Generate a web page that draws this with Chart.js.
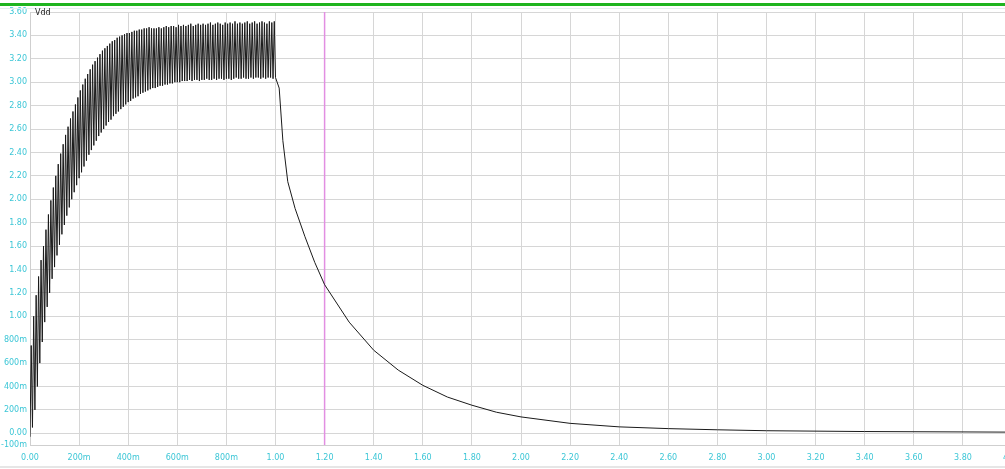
<!DOCTYPE html>
<html>
<head>
<meta charset="utf-8">
<script src="https://cdn.jsdelivr.net/npm/chart.js@4.4.1/dist/chart.umd.min.js"></script>
<style>
  html, body { margin: 0; padding: 0; background: #fff; overflow: hidden; }
  #wrap { width: 1005px; height: 469px; overflow: hidden; }
</style>
</head>
<body>
<div id="wrap"><canvas id="scope" width="1030" height="469"></canvas></div>
<script>
// trace name shown top-left
const traceName = "Vdd";

// charging phase: peak / trough voltages, one pair per switching cycle (0 .. 1.0)
const cyclePeriod = 0.01;
const peakV = [
  0.75, 1.00, 1.18, 1.34, 1.48, 1.60, 1.74, 1.87, 1.99, 2.10,
  2.20, 2.30, 2.39, 2.47, 2.55, 2.62, 2.69, 2.75, 2.81, 2.87,
  2.93, 2.98, 3.03, 3.07, 3.11, 3.15, 3.18, 3.21, 3.24, 3.27,
  3.29, 3.31, 3.33, 3.35, 3.36, 3.38, 3.39, 3.40, 3.41, 3.42,
  3.42, 3.43, 3.44, 3.44, 3.45, 3.45, 3.46, 3.46, 3.47, 3.46,
  3.46, 3.46, 3.47, 3.46, 3.47, 3.48, 3.47, 3.48, 3.48, 3.47,
  3.49, 3.48, 3.49, 3.48, 3.49, 3.50, 3.48, 3.49, 3.50, 3.49,
  3.50, 3.49, 3.50, 3.51, 3.49, 3.50, 3.51, 3.50, 3.49, 3.51,
  3.50, 3.51, 3.50, 3.52, 3.50, 3.51, 3.50, 3.51, 3.52, 3.50,
  3.51, 3.52, 3.50, 3.51, 3.52, 3.51, 3.50, 3.52, 3.51, 3.52
];
const troughV = [
  0.05, 0.20, 0.40, 0.60, 0.78, 0.95, 1.08, 1.20, 1.32, 1.42,
  1.52, 1.61, 1.70, 1.78, 1.86, 1.93, 2.00, 2.06, 2.12, 2.18,
  2.23, 2.28, 2.33, 2.38, 2.42, 2.46, 2.50, 2.54, 2.57, 2.60,
  2.63, 2.66, 2.68, 2.71, 2.73, 2.75, 2.77, 2.79, 2.81, 2.83,
  2.84, 2.86, 2.87, 2.88, 2.90, 2.91, 2.92, 2.93, 2.94, 2.95,
  2.95, 2.96, 2.97, 2.97, 2.98, 2.98, 2.99, 2.99, 3.00, 3.00,
  3.00, 3.01, 3.01, 3.01, 3.02, 3.01, 3.02, 3.02, 3.01, 3.02,
  3.02, 3.03, 3.02, 3.02, 3.03, 3.02, 3.03, 3.03, 3.02, 3.03,
  3.03, 3.02, 3.03, 3.04, 3.03, 3.03, 3.04, 3.03, 3.03, 3.04,
  3.03, 3.04, 3.04, 3.03, 3.04, 3.03, 3.04, 3.04, 3.03, 3.04
];

// discharge phase after switch-off
const decayT = [1.00, 1.015, 1.03, 1.05, 1.08, 1.12, 1.16, 1.20, 1.30, 1.40, 1.50, 1.60, 1.70, 1.80,
  1.90, 2.00, 2.20, 2.40, 2.60, 2.80, 3.00, 3.40, 4.00];
const decayV = [3.04, 2.95, 2.50, 2.15, 1.92, 1.68, 1.46, 1.27, 0.95, 0.71, 0.54, 0.41, 0.31, 0.24,
  0.18, 0.14, 0.085, 0.055, 0.040, 0.030, 0.022, 0.015, 0.010];

// axes
const xMin = 0, xMax = 4.0, xStep = 0.2;
const yMin = -0.1, yMax = 3.6, yStep = 0.2;
const cursorT = 1.2;

// build trace points
const trace = [{ x: 0, y: -0.03 }];
for (let i = 0; i < peakV.length; i++) {
  trace.push({ x: (i + 0.5) * cyclePeriod, y: peakV[i] });
  trace.push({ x: (i + 1) * cyclePeriod, y: troughV[i] });
}
for (let i = 1; i < decayT.length; i++) {
  trace.push({ x: decayT[i], y: decayV[i] });
}

function spiceFmt(v) {
  if (Math.abs(v) < 1e-9) return "0.00";
  if (Math.abs(v) < 0.999) return Math.round(v * 1000) + "m";
  return v.toFixed(2);
}

const tickFont = { family: "DejaVu Sans", size: 8 };
const tickColor = "#3cc6d6";
const gridColor = "#d6d6d6";

const frame = {
  id: "frame",
  afterDraw(chart) {
    const ctx = chart.ctx;
    const area = chart.chartArea;
    ctx.save();
    // green band across the top
    ctx.fillStyle = "#1fb41f";
    ctx.fillRect(0, 3, chart.width, 3);
    ctx.fillStyle = "#e4eeee";
    ctx.fillRect(0, 8, chart.width, 1);
    // faint bottom border
    ctx.fillStyle = "#e6e6e6";
    ctx.fillRect(0, 466, chart.width, 2);
    // trace name
    ctx.fillStyle = "#222";
    ctx.font = "8px DejaVu Sans";
    ctx.textBaseline = "middle";
    ctx.fillText(traceName, area.left + 5, area.top + 1);
    ctx.restore();
  }
};

new Chart(document.getElementById("scope"), {
  type: "line",
  data: {
    datasets: [
      {
        label: traceName,
        data: trace,
        borderColor: "#1a1a1a",
        borderWidth: 1,
        pointRadius: 0,
        tension: 0,
        fill: false,
        order: 1,
      },
      {
        label: "cursor",
        data: [{ x: cursorT, y: yMin }, { x: cursorT, y: yMax }],
        borderColor: "#e28fe2",
        borderWidth: 1.5,
        pointRadius: 0,
        fill: false,
        order: 2,
      },
    ],
  },
  options: {
    responsive: false,
    animation: false,
    layout: { padding: { top: 12, right: 18, bottom: 0, left: 0 } },
    plugins: {
      legend: { display: false },
      tooltip: { enabled: false },
      title: { display: false },
    },
    scales: {
      x: {
        type: "linear",
        min: xMin,
        max: xMax,
        afterFit(scale) { scale.height = 24; },
        grid: { color: gridColor, lineWidth: 1, drawTicks: false },
        border: { color: "#cfcfcf" },
        ticks: {
          stepSize: xStep,
          color: tickColor,
          font: tickFont,
          padding: 8,
          maxRotation: 0,
          autoSkip: false,
          callback: (v) => spiceFmt(v),
        },
      },
      y: {
        type: "linear",
        min: yMin,
        max: yMax,
        afterFit(scale) { scale.width = 30; },
        grid: { color: gridColor, lineWidth: 1, drawTicks: false },
        border: { color: "#cfcfcf" },
        ticks: {
          stepSize: yStep,
          color: tickColor,
          font: tickFont,
          padding: 3,
          autoSkip: false,
          callback: (v) => spiceFmt(v),
        },
      },
    },
  },
  plugins: [frame],
});
</script>
</body>
</html>
